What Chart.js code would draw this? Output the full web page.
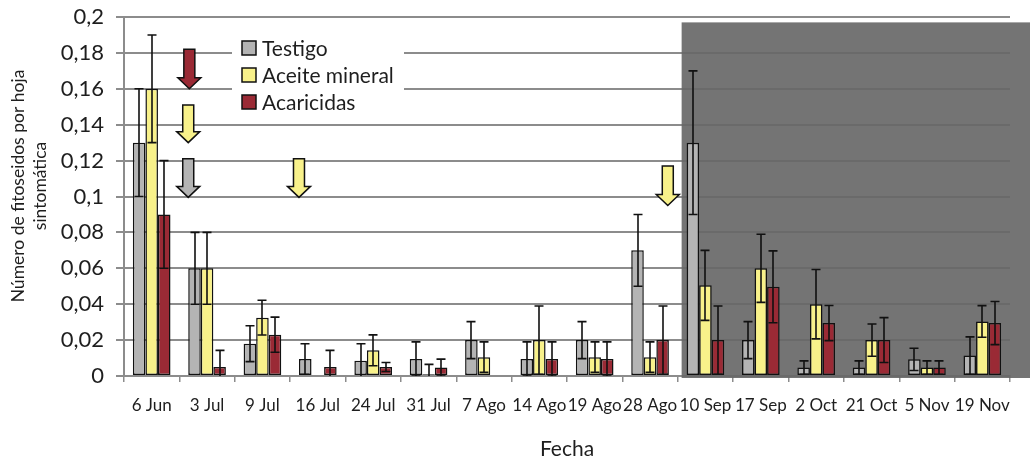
<!DOCTYPE html>
<html lang="es">
<head>
<meta charset="utf-8">
<title>Fitoseidos por hoja sintomática</title>
<script src="https://cdn.jsdelivr.net/npm/chart.js@4.4.1/dist/chart.umd.min.js"></script>
<style>
  html, body { margin: 0; padding: 0; background: #fff; }
  #wrap { width: 1030px; height: 457px; position: relative; }
</style>
</head>
<body>
<div id="wrap"><canvas id="grafico"></canvas></div>
<script>
// ── Datos ─────────────────────────────────────────────
const FECHAS = ['6 Jun', '3 Jul', '9 Jul', '16 Jul', '24 Jul', '31 Jul', '7 Ago', '14 Ago',
  '19 Ago', '28 Ago', '10 Sep', '17 Sep', '2 Oct', '21 Oct', '5 Nov', '19 Nov'];

const TESTIGO     = [0.13, 0.06, 0.018, 0.0095, 0.0085, 0.0095, 0.02, 0.0095, 0.02, 0.07, 0.13, 0.02, 0.0047, 0.0047, 0.0093, 0.0114];
const TESTIGO_ERR = [0.03, 0.02, 0.01, 0.0085, 0.0095, 0.0095, 0.0103, 0.0095, 0.0103, 0.02, 0.04, 0.0103, 0.0037, 0.0037, 0.0062, 0.0104];

const ACEITE     = [0.16, 0.06, 0.0325, 0, 0.0143, 0.001, 0.0105, 0.02, 0.0105, 0.0105, 0.0505, 0.06, 0.04, 0.02, 0.0047, 0.0304];
const ACEITE_ERR = [0.03, 0.02, 0.0097, 0, 0.0086, 0.0055, 0.0085, 0.019, 0.0085, 0.0085, 0.0195, 0.019, 0.0193, 0.009, 0.0037, 0.0088];

const ACARICIDAS     = [0.09, 0.005, 0.023, 0.005, 0.005, 0.0047, 0, 0.0095, 0.0095, 0.02, 0.02, 0.0497, 0.0295, 0.02, 0.0047, 0.0295];
const ACARICIDAS_ERR = [0.03, 0.0093, 0.0098, 0.0093, 0.0025, 0.0047, 0, 0.0095, 0.0095, 0.019, 0.019, 0.02, 0.0098, 0.0125, 0.0037, 0.012];

const TITULO_Y = ['Número de fitoseidos por hoja', 'sintomática'];

// aplicaciones: serie, posición en el eje de fechas, valor arriba y punta
const APLICACIONES = [
  { serie: 2, fecha: 0.68, desde: 0.182, hasta: 0.160 },
  { serie: 1, fecha: 0.66, desde: 0.151, hasta: 0.130 },
  { serie: 0, fecha: 0.66, desde: 0.121, hasta: 0.0995 },
  { serie: 1, fecha: 2.66, desde: 0.121, hasta: 0.0995 },
  { serie: 1, fecha: 9.32, desde: 0.117, hasta: 0.095 },
];

// período sombreado (desde la fecha 10 Sep)
const SOMBRA_DESDE = 9.57;
const SOMBRA_TOPE = 0.197;

// ── Colores ───────────────────────────────────────────
const GRIS = '#b4b4b4';
const AMARILLO = '#f8f18a';
const GRANATE = '#9a2a35';
const LINEA = '#8c8c8c';
const TEXTO = '#1e1e1e';

// fondo gris del período final, bajo las barras
const sombra = {
  id: 'sombra',
  beforeDatasetsDraw(chart) {
    const { ctx, chartArea, scales: { x, y } } = chart;
    const x0 = x.getPixelForValue(SOMBRA_DESDE);
    const y0 = y.getPixelForValue(SOMBRA_TOPE);
    ctx.save();
    ctx.fillStyle = 'rgba(102,102,102,0.91)';
    ctx.fillRect(x0, y0, chart.width - x0, chartArea.bottom + 2 - y0);
    ctx.restore();
  },
};

// barras de error (desvío) de cada serie
const barrasError = {
  id: 'barrasError',
  afterDatasetsDraw(chart) {
    const { ctx, chartArea, scales: { y } } = chart;
    ctx.save();
    ctx.beginPath();
    ctx.rect(chartArea.left, chartArea.top - 2, chartArea.right - chartArea.left, chartArea.bottom - chartArea.top + 2);
    ctx.clip();
    ctx.strokeStyle = '#111';
    ctx.lineWidth = 1.6;
    chart.data.datasets.forEach((ds, i) => {
      chart.getDatasetMeta(i).data.forEach((bar, j) => {
        const v = ds.data[j];
        const e = ds.errores[j];
        if (!e) return;
        const px = Math.round(bar.x);
        const yA = y.getPixelForValue(v + e);
        const yB = y.getPixelForValue(v - e);
        ctx.beginPath();
        ctx.moveTo(px, yA); ctx.lineTo(px, yB);
        ctx.moveTo(px - 4.5, yA); ctx.lineTo(px + 4.5, yA);
        ctx.moveTo(px - 4.5, yB); ctx.lineTo(px + 4.5, yB);
        ctx.stroke();
      });
    });
    ctx.restore();
  },
};

// flechas de aplicación + leyenda dentro del área
const anotaciones = {
  id: 'anotaciones',
  afterDatasetsDraw(chart) {
    const { ctx, chartArea, scales: { x, y } } = chart;
    ctx.save();
    ctx.lineWidth = 1.5;
    ctx.strokeStyle = '#111';
    ctx.lineJoin = 'miter';
    APLICACIONES.forEach((a) => {
      const cx = x.getPixelForValue(a.fecha);
      const yTop = y.getPixelForValue(a.desde);
      const yTip = y.getPixelForValue(a.hasta);
      const yHead = yTip - 11;
      ctx.beginPath();
      ctx.moveTo(cx - 5.5, yTop);
      ctx.lineTo(cx + 5.5, yTop);
      ctx.lineTo(cx + 5.5, yHead);
      ctx.lineTo(cx + 11.5, yHead);
      ctx.lineTo(cx, yTip);
      ctx.lineTo(cx - 11.5, yHead);
      ctx.lineTo(cx - 5.5, yHead);
      ctx.closePath();
      ctx.fillStyle = chart.data.datasets[a.serie].backgroundColor;
      ctx.fill();
      ctx.stroke();
    });

    // leyenda
    const lx = chartArea.left + 108;
    const ly = chartArea.top + 18;
    ctx.fillStyle = '#fff';
    ctx.fillRect(lx, ly, 172, 77);
    ctx.font = '21px Lato';
    ctx.textBaseline = 'middle';
    ctx.lineWidth = 1.5;
    chart.data.datasets.forEach((ds, i) => {
      const cy = ly + 13 + i * 27;
      ctx.fillStyle = ds.backgroundColor;
      ctx.fillRect(lx + 10, cy - 7, 14, 14);
      ctx.strokeRect(lx + 10, cy - 7, 14, 14);
      ctx.fillStyle = TEXTO;
      ctx.fillText(ds.label, lx + 30, cy + 1);
    });
    ctx.restore();
  },
};

// título del eje Y en dos líneas
const tituloY = {
  id: 'tituloY',
  afterDraw(chart) {
    const ctx = chart.ctx;
    ctx.save();
    ctx.translate(0, 186);
    ctx.rotate(-Math.PI / 2);
    ctx.font = '17.5px Lato';
    ctx.fillStyle = TEXTO;
    ctx.textAlign = 'center';
    ctx.textBaseline = 'middle';
    TITULO_Y.forEach((t, i) => ctx.fillText(t, 0, 18 + i * 22));
    ctx.restore();
  },
};

const serie = (label, data, errores, color) => ({
  label,
  data,
  errores,
  backgroundColor: color,
  borderColor: '#111',
  borderWidth: 1.5,
  borderSkipped: false,
  barPercentage: 1,
  categoryPercentage: 0.68,
});

new Chart(document.getElementById('grafico'), {
  type: 'bar',
  data: {
    labels: FECHAS,
    datasets: [
      serie('Testigo', TESTIGO, TESTIGO_ERR, GRIS),
      serie('Aceite mineral', ACEITE, ACEITE_ERR, AMARILLO),
      serie('Acaricidas', ACARICIDAS, ACARICIDAS_ERR, GRANATE),
    ],
  },
  options: {
    responsive: true,
    maintainAspectRatio: false,
    animation: false,
    layout: { padding: { top: 17, right: 20, left: 0, bottom: 0 } },
    plugins: {
      legend: { display: false },
      tooltip: { enabled: false },
    },
    scales: {
      x: {
        afterFit: (s) => { s.height = 81; },
        grid: { drawOnChartArea: false, drawTicks: true, tickLength: 6, color: LINEA, lineWidth: 1.5 },
        border: { color: LINEA, width: 2 },
        ticks: { color: TEXTO, font: { family: 'Lato', size: 17 }, padding: 13, maxRotation: 0, autoSkip: false },
        title: { display: true, text: 'Fecha', color: TEXTO, font: { family: 'Lato', size: 21, lineHeight: 1 }, padding: { top: 0, bottom: -3 } },
      },
      y: {
        min: 0,
        max: 0.2,
        afterFit: (s) => { s.width = 124; s.paddingTop = 0; s.paddingBottom = 0; },
        grid: { color: LINEA, lineWidth: 2, tickLength: 8 },
        border: { color: LINEA, width: 2 },
        ticks: {
          stepSize: 0.02,
          color: TEXTO,
          font: { family: 'Lato', size: 22, lineHeight: 1 },
          padding: 12,
          callback: (v) => String(Number(v.toFixed(2))).replace('.', ','),
        },
      },
    },
  },
  plugins: [sombra, barrasError, anotaciones, tituloY],
});
</script>
</body>
</html>
